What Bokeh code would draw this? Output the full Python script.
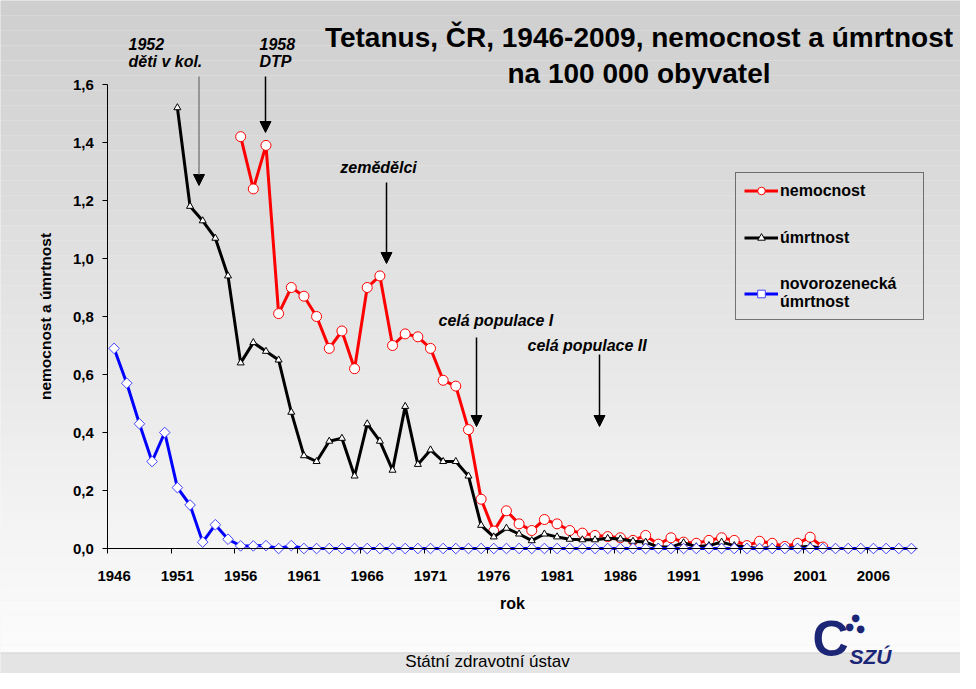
import math
import numpy as np
from bokeh.plotting import figure
from bokeh.models import (Range1d, FixedTicker, Label, Arrow, NormalHead, BoxAnnotation,
                          Legend, LegendItem, CustomJSTickFormatter, ColumnDataSource)
from bokeh.embed import file_html
from bokeh.resources import INLINE

# ---------------- data ----------------
years = list(range(1946, 2010))

nemocnost = [None] * 10 + [
    1.42, 1.24, 1.39, 0.81, 0.90, 0.87, 0.80, 0.69, 0.75, 0.62,
    0.90, 0.94, 0.70, 0.74, 0.73, 0.69, 0.58, 0.56, 0.41, 0.17,
    0.06, 0.13, 0.085, 0.062, 0.10, 0.085, 0.062, 0.053, 0.045, 0.041,
    0.037, 0.028, 0.045, 0.015, 0.037, 0.022, 0.018, 0.028, 0.037, 0.028,
    0.010, 0.025, 0.018, 0.007, 0.018, 0.039, 0.005,
] + [None] * 7

umrtnost = [None] * 5 + [
    1.52, 1.18, 1.13, 1.07, 0.94, 0.64, 0.71, 0.68, 0.65, 0.47,
    0.32, 0.30, 0.37, 0.38, 0.25, 0.43, 0.37, 0.27, 0.49, 0.29,
    0.34, 0.30, 0.30, 0.25, 0.08, 0.04, 0.07, 0.05, 0.027, 0.05,
    0.04, 0.032, 0.03, 0.03, 0.035, 0.033, 0.025, 0.022, 0.005, 0.005,
    0.02, 0.006, 0.01, 0.022, 0.01, 0.004, 0.0, 0.004, 0.0, 0.004,
    0.008,
] + [0.0] * 8

novorozenecka = [
    0.69, 0.57, 0.43, 0.30, 0.40, 0.21, 0.15, 0.022, 0.082, 0.032,
    0.009, 0.009, 0.01, 0.0, 0.01,
] + [0.0] * 49

y_ticks = [0, 0.2, 0.4, 0.6, 0.8, 1.0, 1.2, 1.4, 1.6]
x_label_years = list(range(1946, 2007, 5))

title_lines = ["Tetanus, ČR, 1946-2009, nemocnost a úmrtnost", "na 100 000 obyvatel"]

# ---------------- figure ----------------
FONT = "Liberation Sans"
PX_YEAR = 12.656   # pixels per year
PX_UNIT = 290.0    # pixels per 1.0 of rate
X0 = 113.6         # pixel of 1946
Y0 = 548.0         # pixel of 0.0
W, H = 960, 673

p = figure(output_backend="svg", toolbar_location=None,
           x_range=Range1d(1946 - X0 / PX_YEAR, 1946 + (W - X0) / PX_YEAR),
           y_range=Range1d((Y0 - H) / PX_UNIT, Y0 / PX_UNIT),
           frame_width=W, frame_height=H,
           min_border_left=0, min_border_right=0, min_border_top=0, min_border_bottom=0)
p.background_fill_color = "#eeeeee"
p.border_fill_color = "#eeeeee"
p.outline_line_color = None
p.grid.visible = False

def yv(py):
    return (Y0 - py) / PX_UNIT

def xv(px):
    return 1946 + (px - X0) / PX_YEAR

# background gradient (slide)
N = 44
for i in range(N):
    py0 = 660.0 * i / N
    py1 = 660.0 * (i + 1) / N
    t = (i + 0.5) / N
    c = int(round(206 + (253 - 206) * t))
    top = yv(py0) if i > 0 else 5.0
    bottom = yv(py1) if i < N - 1 else yv(680)
    p.add_layout(BoxAnnotation(left=1900, right=2100, top=top, bottom=bottom,
                               fill_color="#%02x%02x%02x" % (c, c, c), fill_alpha=1.0,
                               line_color=None, level="underlay"))
p.add_layout(BoxAnnotation(left=1900, right=2100, top=yv(652), bottom=yv(700),
                           fill_color="#e4e4e4", fill_alpha=1.0, line_color=None, level="underlay"))
p.add_layout(BoxAnnotation(left=1900, right=2100, top=yv(652), bottom=yv(653),
                           fill_color="#d6d6d6", fill_alpha=1.0, line_color=None, level="underlay"))

src = ColumnDataSource(dict(
    year=years,
    nem=np.array(nemocnost, dtype=float),
    umr=np.array(umrtnost, dtype=float),
    novo=np.array(novorozenecka, dtype=float),
))

r1l = p.line("year", "nem", source=src, line_color="#ff0000", line_width=3)
r1m = p.scatter("year", "nem", source=src, marker="circle", size=10,
                fill_color="white", line_color="#ff0000", line_width=1)
r2l = p.line("year", "umr", source=src, line_color="#000000", line_width=3)
r2m = p.scatter("year", "umr", source=src, marker="triangle", size=7,
                fill_color="white", line_color="#000000", line_width=1)
r3l = p.line("year", "novo", source=src, line_color="#0000ff", line_width=3)
r3m = p.scatter("year", "novo", source=src, marker="square", angle=math.pi / 4, size=7.5,
                fill_color="white", line_color="#4444ff", line_width=1)

# axes (drawn inside the full-canvas frame)
xa = p.xaxis[0]
xa.fixed_location = 0
xa.bounds = (1945.5, 2009.5)
xa.ticker = FixedTicker(ticks=x_label_years, minor_ticks=[y - 0.5 for y in x_label_years])
xa.major_tick_out = 0
xa.major_tick_in = 0
xa.minor_tick_out = 5
xa.minor_tick_in = 0
xa.minor_tick_line_color = "black"
xa.axis_line_color = "black"
xa.major_label_standoff = 17
xa.major_label_text_font = FONT
xa.major_label_text_font_style = "bold"
xa.major_label_text_font_size = "15px"
xa.major_label_text_color = "black"
xa.axis_label = "rok"
xa.axis_label_text_font = FONT
xa.axis_label_text_font_style = "bold"
xa.axis_label_text_font_size = "16px"
xa.axis_label_text_color = "black"
xa.axis_label_standoff = 11

ya = p.yaxis[0]
ya.fixed_location = 1945.5
ya.bounds = (0, 1.6)
ya.ticker = FixedTicker(ticks=y_ticks, minor_ticks=[])
ya.formatter = CustomJSTickFormatter(code="return tick.toFixed(1).replace('.', ',');")
ya.major_tick_out = 5
ya.major_tick_in = 0
ya.major_tick_line_color = "black"
ya.axis_line_color = "black"
ya.major_label_standoff = 9
ya.major_label_text_font = FONT
ya.major_label_text_font_style = "bold"
ya.major_label_text_font_size = "15px"
ya.major_label_text_color = "black"
ya.axis_label = "nemocnost a úmrtnost"
ya.axis_label_text_font = FONT
ya.axis_label_text_font_style = "bold"
ya.axis_label_text_font_size = "15.5px"
ya.axis_label_text_color = "black"
ya.axis_label_standoff = 16

# legend
legend = Legend(items=[
    LegendItem(label="nemocnost", renderers=[r1l, r1m]),
    LegendItem(label="úmrtnost", renderers=[r2l, r2m]),
    LegendItem(label="novorozenecká\númrtnost", renderers=[r3l, r3m]),
], location=(735, 353))
legend.label_text_font = FONT
legend.label_text_font_style = "bold"
legend.label_text_font_size = "16px"
legend.label_text_color = "black"
legend.glyph_width = 34
legend.glyph_height = 19
legend.label_height = 19
legend.label_width = 135
legend.label_standoff = 2
legend.spacing = 28
legend.padding = 8
legend.margin = 0
legend.border_line_color = "black"
legend.border_line_width = 1
legend.background_fill_alpha = 0
p.add_layout(legend)

# title
for txt, py in zip(title_lines, [37, 73]):
    p.add_layout(Label(x=xv(638.5), y=yv(py), text=txt, text_align="center", text_baseline="middle",
                       text_font=FONT, text_font_style="bold", text_font_size="28px",
                       text_color="black"))

# annotations
def note(px, py, txt, align="left"):
    p.add_layout(Label(x=xv(px), y=yv(py), text=txt, text_align=align, text_baseline="middle",
                       text_font=FONT, text_font_style="bold italic", text_font_size="16px",
                       text_color="black"))

def arrow(px, py0, py1, color="black"):
    p.add_layout(Arrow(x_start=xv(px), y_start=yv(py0), x_end=xv(px), y_end=yv(py1),
                       line_color=color, line_width=1.5,
                       end=NormalHead(size=11, fill_color="black", line_color="black")))

note(128, 43, "1952")
note(128, 61, "děti v kol.")
note(259, 43, "1958")
note(259, 61, "DTP")
note(378, 167, "zemědělci", align="center")
note(438, 320, "celá populace I")
note(527, 345, "celá populace II")
arrow(198.5, 76, 185, color="#808080")
arrow(265, 76, 132)
arrow(386, 182, 263)
arrow(476, 337, 426)
arrow(599, 354, 426)

# footer and logo
p.add_layout(Label(x=xv(487), y=yv(661), text="Státní zdravotní ústav", text_align="center",
                   text_baseline="middle", text_font=FONT, text_font_size="17px",
                   text_color="black"))
NAVY = "#1c2677"
p.add_layout(Label(x=xv(812), y=yv(638), text="C", text_align="left", text_baseline="middle",
                   text_font=FONT, text_font_style="bold", text_font_size="50px", text_color=NAVY))
for (dx, dy) in [(855, 617), (849, 626), (860, 628)]:
    p.add_layout(Label(x=xv(dx), y=yv(dy), text="●", text_align="center", text_baseline="middle",
                       text_font="DejaVu Sans", text_font_size="10px", text_color=NAVY))
p.add_layout(Label(x=xv(849), y=yv(656), text="SZÚ", text_align="left", text_baseline="middle",
                   text_font=FONT, text_font_style="bold italic", text_font_size="21px", text_color=NAVY))

open("out.html", "w").write(file_html(p, INLINE))
